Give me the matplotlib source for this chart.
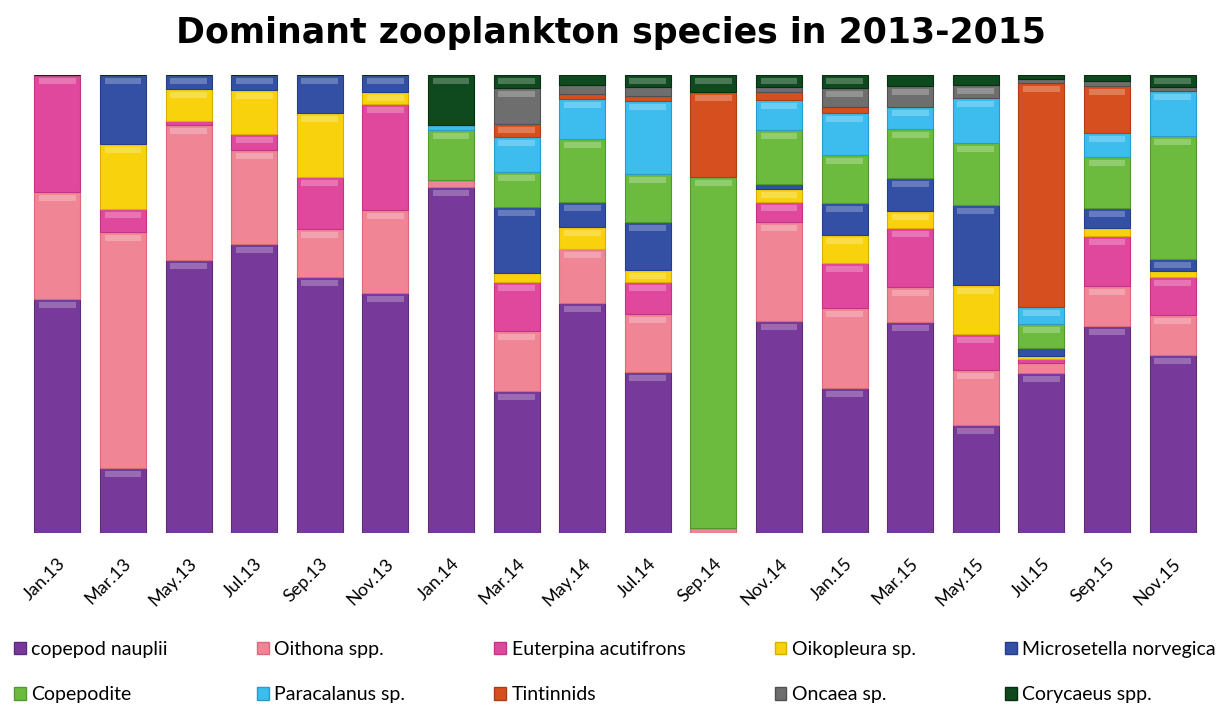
import numpy as np
import matplotlib
matplotlib.use("Agg")
import matplotlib.pyplot as plt
from matplotlib.patches import Patch

# sampling months
months = ["Jan.13", "Mar.13", "May.13", "Jul.13", "Sep.13", "Nov.13",
          "Jan.14", "Mar.14", "May.14", "Jul.14", "Sep.14", "Nov.14",
          "Jan.15", "Mar.15", "May.15", "Jul.15", "Sep.15", "Nov.15"]

# relative abundance (%) per taxon, stacked from the bottom up
copepod_nauplii = [51.1, 14.2, 59.6, 63.1, 55.9, 52.4, 75.5, 31.0, 50.2, 35.2, 0.0, 46.3,
                   31.7, 46.1, 23.6, 34.9, 45.2, 38.9]
oithona = [23.4, 51.5, 29.5, 20.5, 10.5, 18.1, 1.6, 13.1, 11.8, 12.6, 1.0, 21.6,
           17.4, 7.6, 12.0, 2.2, 8.7, 8.7]
euterpina = [25.5, 5.0, 0.9, 3.5, 11.3, 23.2, 0.0, 10.7, 0.0, 7.0, 0.0, 4.4,
             9.9, 12.9, 7.8, 0.9, 10.9, 8.3]
oikopleura = [0.0, 14.2, 6.9, 9.6, 14.0, 2.6, 0.0, 2.0, 4.8, 2.6, 0.0, 2.8,
              6.1, 3.7, 10.7, 0.6, 1.8, 1.3]
microsetella = [0.0, 15.1, 3.1, 3.3, 8.3, 3.7, 0.0, 14.4, 5.5, 10.5, 0.0, 1.1,
                7.0, 7.2, 17.5, 1.8, 4.4, 2.6]
copepodite = [0.0, 0.0, 0.0, 0.0, 0.0, 0.0, 10.9, 7.6, 13.7, 10.5, 76.7, 11.8,
              10.4, 10.7, 13.6, 5.2, 11.1, 26.9]
paracalanus = [0.0, 0.0, 0.0, 0.0, 0.0, 0.0, 1.1, 7.7, 8.8, 15.9, 0.0, 6.5,
               9.2, 4.8, 9.8, 3.7, 5.2, 9.8]
tintinnids = [0.0, 0.0, 0.0, 0.0, 0.0, 0.0, 0.0, 2.8, 1.1, 1.1, 18.6, 1.8,
              1.3, 0.0, 0.0, 49.0, 10.3, 0.0]
oncaea = [0.0, 0.0, 0.0, 0.0, 0.0, 0.0, 0.0, 7.9, 1.9, 2.0, 0.0, 1.1,
          4.2, 4.6, 2.8, 0.8, 1.1, 0.9]
corycaeus = [0.0, 0.0, 0.0, 0.0, 0.0, 0.0, 10.9, 2.8, 2.2, 2.6, 3.7, 2.6,
             2.8, 2.4, 2.2, 0.9, 1.3, 2.6]

taxa = ["copepod nauplii", "Oithona spp.", "Euterpina acutifrons", "Oikopleura sp.",
        "Microsetella norvegica", "Copepodite", "Paracalanus sp.", "Tintinnids",
        "Oncaea sp.", "Corycaeus spp."]
series = [copepod_nauplii, oithona, euterpina, oikopleura, microsetella,
          copepodite, paracalanus, tintinnids, oncaea, corycaeus]
colors = ["#773A9A", "#F08595", "#E0489E", "#F8D20C", "#3350A5",
          "#6DBB3E", "#3CBDEE", "#D64F1E", "#6E6E6E", "#0E4A1E"]
edges = ["#5E2A7E", "#D96B7B", "#C23486", "#D9AE00", "#253E8A",
         "#4F9A2A", "#2A9ACB", "#B03C12", "#505050", "#082E12"]

fig = plt.figure(figsize=(12.3, 7.11), dpi=100)
ax = fig.add_axes([0.020, 0.2504, 0.960, 0.6441])

x = np.arange(len(months))
bottom = np.zeros(len(months))
for name, vals, c, ec in zip(taxa, series, colors, edges):
    vals = np.array(vals)
    ax.bar(x, vals, width=0.70, bottom=bottom, color=c, edgecolor=ec,
           linewidth=0.8, label=name)
    # soft glossy highlight along the top of each segment
    hl = np.where(vals > 2.5, 1.3, 0.0)
    ax.bar(x, hl, width=0.56, bottom=bottom + vals - 2.0, color="white",
           alpha=0.25, linewidth=0)
    bottom += vals

ax.set_xlim(-0.5, len(months) - 0.5)
ax.set_ylim(0, bottom.max())
ax.set_yticks([])
ax.set_xticks(x)
ax.set_xticklabels(months, rotation=45, ha="right", va="top",
                   rotation_mode="anchor", fontsize=13, family="Lato")
ax.tick_params(axis="x", length=0, pad=16)
for s in ax.spines.values():
    s.set_visible(False)

fig.suptitle("Dominant zooplankton species in 2013-2015", x=0.497, y=0.978,
             fontsize=25, fontweight="bold", family="DejaVu Sans")

# legend: two rows of five, filled column by column
handles = [Patch(facecolor=c, edgecolor=ec, label=n) for n, c, ec in zip(taxa, colors, edges)]
order = [0, 5, 1, 6, 2, 7, 3, 8, 4, 9]
fig.legend([handles[i] for i in order], [taxa[i] for i in order],
           ncol=5, loc="lower left", bbox_to_anchor=(0.005, 0.0, 0.99, 0.12),
           mode="expand", frameon=False, prop={"family": "Lato", "size": 14},
           handlelength=0.6, handleheight=0.6, handletextpad=0.3,
           labelspacing=1.45, borderaxespad=0.0)

fig.savefig("out.png", dpi=100)
